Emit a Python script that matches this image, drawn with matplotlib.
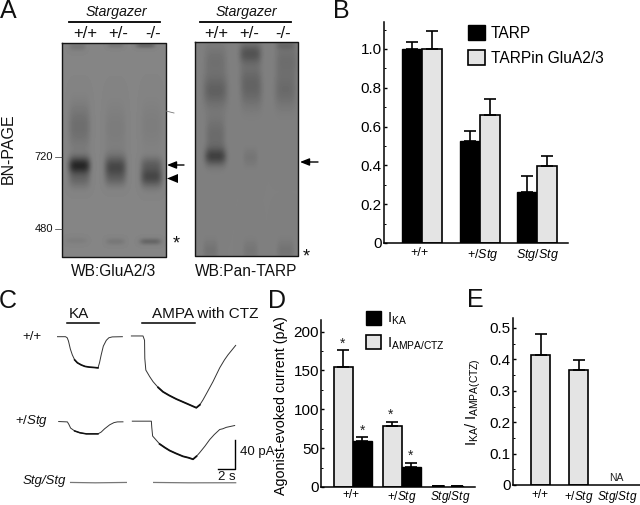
import numpy as np
import matplotlib
matplotlib.use("Agg")
import matplotlib.pyplot as plt
from matplotlib.ticker import MultipleLocator, FormatStrFormatter

plt.rcParams['font.family'] = ['Liberation Sans', 'DejaVu Sans']
plt.rcParams['mathtext.fontset'] = 'custom'
plt.rcParams['mathtext.rm'] = 'Liberation Sans'
plt.rcParams['mathtext.it'] = 'Liberation Sans:italic'

# ---- Panel B data
b_groups = ['+/+', '+/$\\mathit{Stg}$', '$\\mathit{Stg/Stg}$']
b_tarp = [1.0, 0.525, 0.265]
b_tarp_err = [0.035, 0.05, 0.08]
b_gluA = [1.0, 0.66, 0.395]
b_gluA_err = [0.095, 0.08, 0.055]

# ---- Panel D data
d_groups = ['+/+', '+/$\\mathit{Stg}$', '$\\mathit{Stg/Stg}$']
d_ampa = [155, 78, 1.2]
d_ampa_err = [21, 6, 0]
d_ka = [59, 26, 1.2]
d_ka_err = [5, 5, 0]

# ---- Panel E data
e_groups = ['+/+', '+/$\\mathit{Stg}$', '$\\mathit{Stg/Stg}$']
e_ratio = [0.415, 0.365]
e_ratio_err = [0.065, 0.032]

# ---- Panel C traces (seconds, pA)
ka_wt_t = [0, 1.0, 1.2, 1.35, 1.57, 1.8, 2.08, 2.4, 2.86, 3.3, 3.84, 4.4, 4.82, 5.0, 5.2, 5.45, 5.80, 6.1, 6.5, 7.69]
ka_wt_i = [0, 0, -1.5, -6, -17, -25, -32, -36, -39, -41, -42, -42.5, -43, -36, -25, -13, -5, -1.5, -0.3, 0]
ampa_wt_t = [8.75, 10.12, 10.3, 10.33, 10.45, 10.9, 11.3, 11.9, 12.47, 13.2, 14.04, 15.22, 16.39, 16.8, 17.18, 17.7,
             18.35, 19.14, 19.7, 20.12, 21.02]
ampa_wt_i = [1, 1, -5, -30, -46, -55, -62, -70, -76, -81, -86, -92, -98, -94, -87, -76, -62, -43, -32, -25, -12]
ka_het_t = [0.2, 1.22, 1.4, 1.6, 2.08, 2.7, 3.45, 4.82, 5.2, 5.6, 6.2, 6.7, 7.1, 7.76]
ka_het_i = [0, -0.5, -4, -9, -13, -15.5, -17, -17, -14.5, -10, -4.5, -1.5, -0.5, -0.4]
ampa_het_t = [8.86, 11.1, 11.15, 11.25, 11.7, 12.08, 12.7, 13.25, 14.0, 14.82, 15.5, 16, 16.4, 16.78, 17.4, 17.96, 18.5, 19.14, 19.5,
              19.92, 20.9]
ampa_het_i = [0.5, 0.5, -8, -20, -26, -31, -36, -40, -44, -48, -50, -52, -48, -43, -34, -25, -18, -11, -10, -8, -5.5]
ka_null_t = [1.6, 4.5, 8.16]
ka_null_i = [0, -0.5, 0]
ampa_null_t = [11.37, 15.5, 21.02]
ampa_null_i = [0, -0.5, -0.4]

# ---- Panel A bands: lane, row, x spread, y spread, darkness
blot1_bands = [
    (79, 165, 9, 6, 0.36), (79, 126, 9, 16, 0.09), (79, 179, 9, 6, 0.10),
    (115, 167, 9, 8, 0.24), (115, 128, 9, 18, 0.035), (115, 180, 9, 5, 0.06),
    (151, 176, 9, 7, 0.24), (151, 163, 9, 5, 0.10), (151, 125, 9, 18, 0.03),
    (76, 240, 9, 2.5, 0.03), (115, 241, 8, 2.5, 0.05), (150, 241, 9, 2.3, 0.12),
    (77, 46, 7, 3, 0.06), (115, 45, 7, 2, 0.05), (145, 45, 8, 2, 0.12),
]
blot2_bands = [
    (215, 156, 9, 6, 0.22), (215, 135, 8, 14, 0.08), (215, 90, 10, 11, 0.12), (215, 60, 9, 11, 0.06),
    (250, 157, 6, 6, 0.04), (251, 90, 9, 12, 0.09), (250, 53, 9, 7, 0.17), (250, 75, 9, 10, 0.05),
    (285, 90, 9, 12, 0.08), (286, 60, 9, 12, 0.07), (285, 45, 8, 3, 0.07),
    (210, 250, 6, 7, 0.05), (250, 250, 6, 7, 0.04), (285, 250, 7, 7, 0.05),
]


def px_rect(l, t, r, b):
    return [l / 640, 1 - b / 505, (r - l) / 640, (b - t) / 505]


def blot(ax, l, t, r, b, bands, base):
    xx, yy = np.meshgrid(np.arange(l, r, 1.0), np.arange(t, b, 1.0))
    img = np.full(xx.shape, base, dtype=float)
    for cx, cy, sx, sy, amp in bands:
        img -= amp * np.exp(-((xx - cx) / sx) ** 4 / 2 - ((yy - cy) / sy) ** 2 / 2)
    ax.imshow(img, extent=(l, r, b, t), cmap='gray', vmin=0, vmax=1, aspect='auto',
              interpolation='bilinear', zorder=1)
    ax.plot([l, r, r, l, l], [t, t, b, b, t], color='#151515', lw=1.0, zorder=2)


fig = plt.figure(figsize=(6.4, 5.05), dpi=100, facecolor='white')
bg = fig.add_axes([0, 0, 1, 1])
bg.axis('off')


def T(x, y, s, size=10, ha='center', va='center', **kw):
    bg.text(x, y, s, fontsize=size, ha=ha, va=va, color='#111111', **kw)


# Panel A
blot(bg, 62, 43, 166, 257, blot1_bands, 0.52)
blot(bg, 195, 42, 298, 256, blot2_bands, 0.50)
bg.plot([166, 174], [111, 113], color='#777777', lw=0.6, zorder=2)
bg.set_xlim(0, 640)
bg.set_ylim(505, 0)

# Panel letters
for x, y, s in [(8, 11, 'A'), (341, 11, 'B'), (8, 301, 'C'), (277, 301, 'D'), (475, 300, 'E')]:
    T(x, y, s, size=18)

for x0, x1, xt in [(69, 160, 116), (200, 291, 246)]:
    bg.plot([x0, x1], [22, 22], color='k', lw=1.3)
    T(xt, 12, 'Stargazer', size=10.3, style='italic')
for xs, y in [((85, 118, 153), 33.5), ((216, 249, 283), 33.5)]:
    for x, s in zip(xs, ['+/+', '+/-', '-/-']):
        T(x, y, s, size=12)
T(114, 271, 'WB:GluA2/3', size=11.2)
T(246, 271, 'WB:Pan-TARP', size=11.2)
T(8, 149, 'BN-PAGE', size=11.5, rotation=90)
T(44, 157, '720', size=8)
T(44, 229, '480', size=8)
bg.plot([55, 62], [157, 157], color='#333333', lw=0.5)
bg.plot([55, 62], [229, 229], color='#333333', lw=0.5)
for x0, x1, y in [(184, 167, 165), (318, 300, 162)]:
    bg.annotate('', xy=(x1, y), xytext=(x0, y),
                arrowprops=dict(arrowstyle='-|>,head_width=0.22,head_length=0.55', color='k', lw=1.0,
                                shrinkA=0, shrinkB=0))
bg.fill([178, 178, 167], [174, 183, 178.5], color='k', lw=0)
T(176, 244, '*', size=13)
T(306, 257, '*', size=13)

# Panel C
axc = fig.add_axes(px_rect(57, 300, 276, 500))
axc.set_xlim(0, 219 / 8.5)
axc.set_ylim(-225.2, 50.6)
axc.axis('off')
for (t, i, off) in [(ka_wt_t, ka_wt_i, 0), (ampa_wt_t, ampa_wt_i, 0),
                    (ka_het_t, ka_het_i, -117), (ampa_het_t, ampa_het_i, -117)]:
    axc.plot(t, np.array(i) + off, color='#333333', lw=0.7)
axc.plot(ka_wt_t[6:13], np.array(ka_wt_i[6:13]), color='#111111', lw=1.2)
axc.plot(ampa_wt_t[7:14], np.array(ampa_wt_i[7:14]), color='#111111', lw=1.3)
axc.plot(ka_het_t[4:8], np.array(ka_het_i[4:8]) - 117, color='#111111', lw=1.1)
axc.plot(ampa_het_t[5:13], np.array(ampa_het_i[5:13]) - 117, color='#111111', lw=1.3)
for t, i in [(ka_null_t, ka_null_i), (ampa_null_t, ampa_null_i)]:
    axc.plot(t, np.array(i) - 201, color='#777777', lw=0.9)
bg.plot([67, 99], [323, 323], color='k', lw=1.1)
bg.plot([142, 195], [323, 323], color='k', lw=1.1)
T(79, 314, 'KA', size=11)
T(205, 314, 'AMPA with CTZ', size=11)
T(32, 337, '+/+', size=9.5)
T(32, 421, '+/$\\mathit{Stg}$', size=9.5)
T(23, 481, 'Stg/Stg', size=9.5, style='italic', ha='left')
bg.plot([218, 235, 235], [469, 469, 440], color='k', lw=1.0)
T(257, 452, '40 pA', size=9.5)
T(227, 477, '2 s', size=9.5)


def styled(ax, ylim, xlim, major, minor, fmt, xsize=9, xpad=3):
    ax.set_xlim(*xlim)
    ax.set_ylim(*ylim)
    ax.patch.set_alpha(0)
    for s in ('top', 'right'):
        ax.spines[s].set_visible(False)
    for s in ('left', 'bottom'):
        ax.spines[s].set_linewidth(1.1)
    ax.yaxis.set_major_locator(MultipleLocator(major))
    ax.yaxis.set_minor_locator(MultipleLocator(minor))
    ax.yaxis.set_major_formatter(fmt)
    ax.tick_params(axis='y', which='major', direction='in', length=2.5, width=1.0, labelsize=11, pad=1.5)
    ax.tick_params(axis='y', which='minor', direction='in', length=1.3, width=0.7)
    ax.tick_params(axis='x', length=0, labelsize=xsize, pad=xpad)


GREY = '#e4e4e4'

# Panel B
axb = fig.add_axes(px_rect(384, 22, 568, 243))
xb = np.arange(3)
w = 20 / 57.5
styled(axb, (0, 221 / 194), (-38 / 57.5, 146 / 57.5), 0.2, 0.1, FormatStrFormatter('%.1f'))
axb.yaxis.set_major_formatter(lambda v, p: '0' if abs(v) < 1e-9 else f'{v:.1f}')
ek = dict(elinewidth=1.2, capsize=4.6, capthick=1.2, ecolor='k')
axb.bar(xb - w / 2, b_tarp, w, color='k', edgecolor='k', lw=1.0,
        yerr=[[0] * 3, b_tarp_err], error_kw=ek, label='TARP')
axb.bar(xb + w / 2, b_gluA, w, color=GREY, edgecolor='k', lw=1.2,
        yerr=[[0] * 3, b_gluA_err], error_kw=ek, label='TARPin GluA2/3')
axb.set_xticks(xb - np.array([0.04, -0.05, 0.0]), b_groups)
axb.legend(loc='upper left', bbox_to_anchor=(0.457, 0.985), frameon=False,
           fontsize=11.2, handlelength=1.08, handleheight=1.05, handletextpad=0.4, labelspacing=0.62,
           borderpad=0, borderaxespad=0)

# Panel D
axd = fig.add_axes(px_rect(321, 320, 475, 487))
xd = np.array([353, 402, 448.0])
wd = [19, 19, 11]
styled(axd, (0, 215), (321, 475), 50, 25, FormatStrFormatter('%d'), xsize=8.5, xpad=1.5)
axd.bar([x - wv / 2 - (4 if i == 2 else 0) for i, (x, wv) in enumerate(zip(xd, wd))], d_ampa, wd,
        color=GREY, edgecolor='k', lw=1.2, yerr=[[0] * 3, d_ampa_err],
        error_kw=ek, label='$\\mathrm{I_{AMPA/CTZ}}$')
axd.bar([x + wv / 2 + (4 if i == 2 else 0) for i, (x, wv) in enumerate(zip(xd, wd))], d_ka, wd,
        color='k', edgecolor='k', lw=1.0, yerr=[[0] * 3, d_ka_err],
        error_kw=ek, label='$\\mathrm{I_{KA}}$')
axd.set_xticks([351, 402, 450], d_groups)
axd.set_ylabel('Agonist-evoked current (pA)', fontsize=10.3)
axd.yaxis.set_label_coords(-33 / 154, 0.49)
h, l = axd.get_legend_handles_labels()
axd.legend(h[::-1], l[::-1], loc='upper left', bbox_to_anchor=(0.29, 1.054), frameon=False, fontsize=10.5,
           handlelength=1.08, handleheight=1.1, handletextpad=0.35, labelspacing=0.55,
           borderpad=0, borderaxespad=0)
for x, v in [(343, d_ampa[0] + d_ampa_err[0]), (363, d_ka[0] + d_ka_err[0]),
             (391, d_ampa[1] + d_ampa_err[1]), (411, d_ka[1] + d_ka_err[1])]:
    axd.annotate('*', (x, v), xytext=(0, 0), textcoords='offset points', ha='center', va='bottom',
                 fontsize=10, color='#222222')

# Panel E
axe = fig.add_axes(px_rect(513, 318, 640, 485))
xe = np.array([540.5, 578.5])
styled(axe, (0, 167 / 314), (513, 640), 0.1, 0.05, FormatStrFormatter('%.1f'), xsize=8.5)
axe.yaxis.set_major_formatter(lambda v, p: '0' if abs(v) < 1e-9 else f'{v:.1f}')
axe.bar(xe, e_ratio, 19, color=GREY, edgecolor='k', lw=1.2, yerr=[[0, 0], e_ratio_err], error_kw=ek)
axe.set_xticks([540, 579, 617], e_groups)
axe.set_ylabel('$\\mathrm{I_{KA}/\\ I_{AMPA(CTZ)}}$', fontsize=10.5)
axe.yaxis.set_label_coords(-30 / 127, 0.497)
axe.text(616, 0.005, 'NA', fontsize=7.5, ha='center', va='bottom', color='#222222')

fig.savefig('out.png', dpi=100, facecolor='white')
